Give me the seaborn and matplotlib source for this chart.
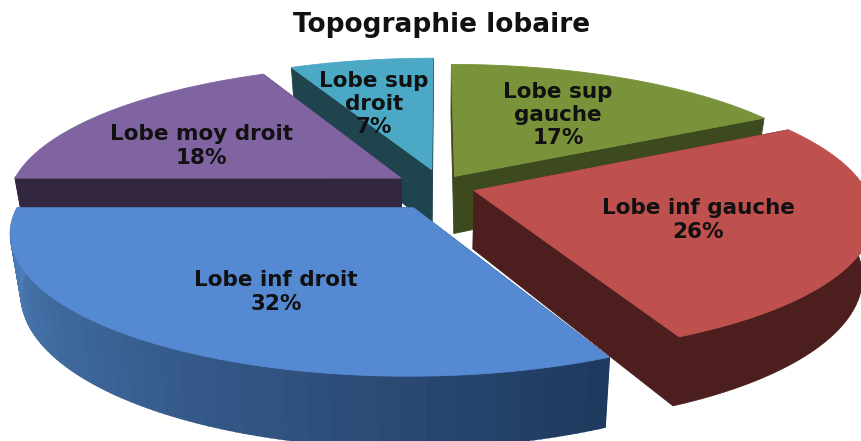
import numpy as np
import matplotlib
matplotlib.use("Agg")
import matplotlib.pyplot as plt
import seaborn as sns

categories = ["Lobe sup\ngauche", "Lobe inf gauche", "Lobe inf droit", "Lobe moy droit", "Lobe sup\ndroit"]
values = [17, 26, 32, 18, 7]
top_colors = ["#7A933A", "#BE504D", "#558AD3", "#8064A2", "#4BA9C6"]
side_colors = ["#3D4A1E", "#4C1F1E", "#4F81BD", "#33273F", "#1F444E"]

# label centres in pixels
label_xy = [(558, 115), (698, 220), (276, 292), (201, 146), (374, 104)]
# small per-slice shifts in pixels, the original pie is not a perfect projection
nudge = [(-4, 0), (-4, -3), (0, 6), (0, -3), (4, -5)]
draw_order = [4, 0, 3, 1, 2]

# projection settings, fitted by eye
CX, CY = 437, 189
A, B = 390, 135
K = 0.17
DEPTH = 58
TAPER = 0.025
EXPLODE = 0.11


def project(xw, yw, z=0.0):
    d = 1 - K * yw
    return CX + A * xw / d * (1 - TAPER * z), CY + (B * yw + DEPTH * z) / d


def rim(t0, t1, off, n=120):
    t = np.linspace(t0, t1, n)
    return off[0] + np.sin(t), off[1] - np.cos(t), t


def quad(ax, xs, ys, shift, color, zorder, lw=0.6):
    sx, sy = project(np.asarray(xs), np.asarray(ys))
    bx, by = project(np.asarray(xs), np.asarray(ys), 1.0)
    ax.fill(np.r_[sx, bx[::-1]] + shift[0], np.r_[sy, by[::-1]] + shift[1],
            color=color, lw=lw, zorder=zorder)


def draw_slice(ax, i, t0, t1, zorder):
    mid = (t0 + t1) / 2
    off = (EXPLODE * np.sin(mid), -EXPLODE * np.cos(mid))
    xr, yr, t = rim(t0, t1, off)
    side = side_colors[i]
    shift = nudge[i]
    ramp = sns.blend_palette(["#1F3A5F", side], 41)

    # flat cut faces, back one first
    faces = [([off[0], xr[0]], [off[1], yr[0]]), ([off[0], xr[-1]], [off[1], yr[-1]])]
    faces.sort(key=lambda f: np.mean(f[1]))
    for fx, fy in faces:
        quad(ax, fx, fy, shift, side if i != 2 else ramp[0], zorder)

    # outer wall, only the part facing the viewer
    front = np.cos(t) <= 0.02
    if i == 2:
        # blue wall goes dark towards the right
        for j in range(len(xr) - 1):
            if front[j]:
                frac = (t[j] - t0) / (t1 - t0)
                quad(ax, xr[j:j + 2], yr[j:j + 2], shift, ramp[int(frac * 40)], zorder, lw=1.2)
    elif front.any():
        quad(ax, xr[front], yr[front], shift, side, zorder)

    sx, sy = project(np.r_[off[0], xr], np.r_[off[1], yr])
    ax.fill(sx + shift[0], sy + shift[1], color=top_colors[i], lw=0.6, zorder=zorder)


sns.set_style("white")
plt.rcParams["font.family"] = ["DejaVu Sans"]

fig, ax = plt.subplots(figsize=(8.61, 4.41), dpi=100)
fig.subplots_adjust(0, 0, 1, 1)
ax.set_xlim(0, 861)
ax.set_ylim(441, 0)
ax.axis("off")

edges = np.r_[0, np.cumsum(values)] / np.sum(values) * 2 * np.pi
for z, i in enumerate(draw_order):
    draw_slice(ax, i, edges[i], edges[i + 1], z + 1)

for name, v, (lx, ly) in zip(categories, values, label_xy):
    ax.text(lx, ly, f"{name}\n{v}%", ha="center", va="center", fontsize=15.5,
            fontweight="bold", color="#111111", linespacing=1.2, zorder=20)

ax.text(442, 25, "Topographie lobaire", ha="center", va="center", fontsize=19,
        fontweight="bold", color="#111111", zorder=20)

fig.savefig("out.png", dpi=100)
